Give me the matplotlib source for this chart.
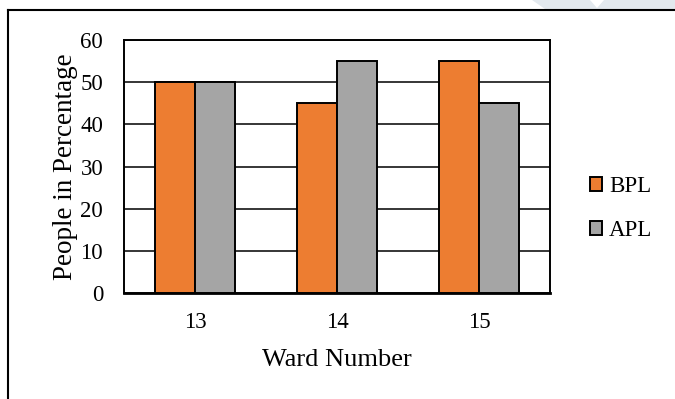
import matplotlib
matplotlib.use("Agg")
import matplotlib.pyplot as plt
from matplotlib.lines import Line2D
from matplotlib.patches import Polygon
import numpy as np

wards = ["13", "14", "15"]
bpl = [50, 45, 55]
apl = [50, 55, 45]

plt.rcParams['font.family'] = ['Liberation Serif', 'DejaVu Serif']

fig = plt.figure(figsize=(6.75, 3.99), dpi=100)
ax = fig.add_axes([0.1837, 0.2657, 0.6311, 0.634])

x = np.arange(len(wards))
w = 0.282
ax.bar(x - w/2, bpl, w, color="#ED7D31", edgecolor="black", linewidth=1.4, label="BPL", zorder=3)
ax.bar(x + w/2, apl, w, color="#A5A5A5", edgecolor="black", linewidth=1.4, label="APL", zorder=3)

ax.set_xlim(-0.5, 2.5)
ax.set_ylim(0, 60)
ax.set_yticks(range(0, 61, 10))
ax.set_xticks(x)
ax.set_xticklabels(wards)
ax.yaxis.grid(True, color="black", linewidth=1.1, zorder=1)
ax.set_axisbelow(True)
ax.tick_params(length=0, labelsize=16.5)
ax.tick_params(axis='y', pad=15)
ax.tick_params(axis='x', pad=14)
for s in ax.spines.values():
    s.set_linewidth(1.4)
ax.spines['bottom'].set_linewidth(2)

ax.set_xlabel("Ward Number", fontsize=19, labelpad=11)
ax.set_ylabel("People in Percentage", fontsize=19.5, labelpad=2)

fig.legend(loc="center left", bbox_to_anchor=(590/675, 1 - 208.5/399), frameon=False,
           fontsize=16.5, handlelength=0.53, handleheight=0.53, handletextpad=0.3,
           labelspacing=1.0, borderaxespad=0, borderpad=0)

# page frame (left and top edges)
fig.add_artist(Line2D([8/675, 8/675], [0, 1 - 10/399], color="black", lw=1.5, transform=fig.transFigure))
fig.add_artist(Line2D([8/675, 1], [1 - 10/399, 1 - 10/399], color="black", lw=1.5, transform=fig.transFigure))

# faint header ornament at top right
fig.add_artist(Polygon([(532/675, 1), (590/675, 1), (597/675, 1 - 8/399), (604/675, 1), (675/675, 1),
                        (675/675, 1 - 9/399), (545/675, 1 - 9/399)],
                       closed=True, facecolor="#e3e9ee", edgecolor="none", transform=fig.transFigure))

fig.savefig("out.png", dpi=100)
